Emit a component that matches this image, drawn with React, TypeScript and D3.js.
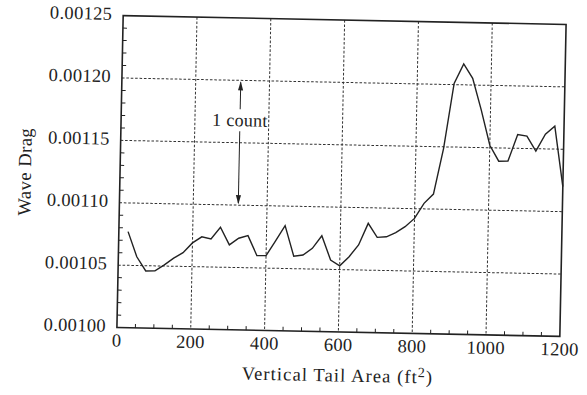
import React from "react";
import * as d3 from "d3";

// Vertical tail area sweep (ft^2) and resulting wave drag
const tailArea: number[] = [
  25, 50, 75, 100, 125, 150, 175, 200, 225, 250, 275, 300, 325, 350, 375, 400,
  425, 450, 475, 500, 525, 550, 575, 600, 625, 650, 675, 700, 725, 750, 775, 800,
  825, 850, 875, 900, 925, 950, 975, 1000, 1025, 1050, 1075, 1100, 1125, 1150, 1175, 1200,
];
const waveDrag: number[] = [
  0.001077, 0.001057, 0.0010458, 0.001046, 0.001051, 0.0010565, 0.001061, 0.001069,
  0.001074, 0.0010725, 0.001082, 0.001068, 0.0010735, 0.0010757, 0.00106, 0.00106,
  0.001072, 0.0010843, 0.00106, 0.0010611, 0.0010666, 0.0010768, 0.0010575, 0.001053,
  0.0010605, 0.00107, 0.0010875, 0.0010764, 0.001077, 0.0010805, 0.0010854, 0.0010922,
  0.0011044, 0.001112, 0.0011488, 0.001201, 0.0012167, 0.0012053, 0.00118, 0.001152,
  0.0011394, 0.0011396, 0.001161, 0.00116, 0.001148, 0.0011618, 0.0011684, 0.00112,
];

const xTicks: number[] = [0, 200, 400, 600, 800, 1000, 1200];
const yTicks: number[] = [0.001, 0.00105, 0.0011, 0.00115, 0.0012, 0.00125];
const xGrid: number[] = [200, 400, 600, 800, 1000];
const yGrid: number[] = [0.00105, 0.0011, 0.00115, 0.0012];

// "1 count" annotation: arrows spanning one drag count
const countX = 322;
const countLabelY = 0.001168;
const countTop = 0.0012;
const countBottom = 0.0011;

const W = 587;
const H = 395;
const left = 120;
const right = 563;
const top = 20;
const bottom = 332;
const FONT = "'Liberation Serif', 'Times New Roman', serif";
const INK = "#222";

export default function App() {
  const x = d3.scaleLinear().domain([0, 1200]).range([left, right]);
  const y = d3.scaleLinear().domain([0.001, 0.00125]).range([bottom, top]);

  const line = d3
    .line<number>()
    .x((_, i) => x(tailArea[i]))
    .y((d) => y(d));

  const xMinor = d3.range(50, 1200, 50).filter((v) => v % 200 !== 0);
  const yMinor = d3
    .range(1, 25)
    .map((k) => 0.001 + k * 0.00001)
    .filter((_, k) => (k + 1) % 5 !== 0);
  const fmt = d3.format(".5f");

  const ax = x(countX);
  const labelY = y(countLabelY);
  const headLen = 9;
  const headHalf = 2.6;

  return (
    <svg
      width={W}
      height={H}
      style={{ position: "absolute", left: 0, top: 0, background: "#fff" }}
    >
      <rect width={W} height={H} fill="#fff" />
      <g transform="rotate(1.15, 341.5, 176)">
        {/* grid */}
        {xGrid.map((v) => (
          <line
            key={"gx" + v}
            x1={x(v)}
            x2={x(v)}
            y1={top}
            y2={bottom}
            stroke="#333"
            strokeWidth={1}
            strokeDasharray="2.6,1.8"
          />
        ))}
        {yGrid.map((v) => (
          <line
            key={"gy" + v}
            x1={left}
            x2={right}
            y1={y(v)}
            y2={y(v)}
            stroke="#333"
            strokeWidth={1}
            strokeDasharray="2.6,1.8"
          />
        ))}

        {/* minor ticks */}
        {xMinor.map((v) => (
          <line key={"mx" + v} x1={x(v)} x2={x(v)} y1={bottom} y2={bottom - 4} stroke={INK} strokeWidth={1} />
        ))}
        {yMinor.map((v) => (
          <line key={"my" + v} x1={left} x2={left + 4} y1={y(v)} y2={y(v)} stroke={INK} strokeWidth={1} />
        ))}

        {/* frame */}
        <rect
          x={left}
          y={top}
          width={right - left}
          height={bottom - top}
          fill="none"
          stroke={INK}
          strokeWidth={1.6}
        />

        {/* data */}
        <path d={line(waveDrag) || ""} fill="none" stroke={INK} strokeWidth={1.4} strokeLinejoin="miter" />

        {/* annotation */}
        <text
          x={ax}
          y={labelY}
          textAnchor="middle"
          dominantBaseline="central"
          fontFamily={FONT}
          fontSize={18}
          letterSpacing={0.3}
          fill={INK}
        >
          1 count
        </text>
        <line x1={ax} x2={ax} y1={labelY - 11} y2={y(countTop) + 2} stroke={INK} strokeWidth={1} />
        <path
          d={`M${ax},${y(countTop) + 1} L${ax - headHalf},${y(countTop) + 1 + headLen} L${ax + headHalf},${y(countTop) + 1 + headLen} Z`}
          fill={INK}
        />
        <line x1={ax} x2={ax} y1={labelY + 11} y2={y(countBottom) - 2} stroke={INK} strokeWidth={1} />
        <path
          d={`M${ax},${y(countBottom) - 1} L${ax - headHalf},${y(countBottom) - 1 - headLen} L${ax + headHalf},${y(countBottom) - 1 - headLen} Z`}
          fill={INK}
        />

        {/* tick labels */}
        {xTicks.map((v) => (
          <text
            key={"tx" + v}
            x={x(v)}
            y={bottom + 19}
            textAnchor="middle"
            fontFamily={FONT}
            fontSize={18.5}
            letterSpacing={0.3}
            fill={INK}
          >
            {v}
          </text>
        ))}
        {yTicks.map((v) => (
          <text
            key={"ty" + v}
            x={left - 11}
            y={y(v) + 4.5}
            textAnchor="end"
            fontFamily={FONT}
            fontSize={18.5}
            letterSpacing={0.3}
            fill={INK}
          >
            {fmt(v)}
          </text>
        ))}

        {/* axis titles */}
        <text
          x={(left + right) / 2}
          y={381.5}
          textAnchor="middle"
          fontFamily={FONT}
          fontSize={18.5}
          letterSpacing={1.1}
          fill={INK}
        >
          Vertical Tail Area (ft
          <tspan fontSize={14} dy={-6}>2</tspan>
          <tspan dy={6}>)</tspan>
        </text>
        <text
          transform={`translate(31, 178) rotate(-90)`}
          textAnchor="middle"
          fontFamily={FONT}
          fontSize={18.5}
          letterSpacing={0.5}
          fill={INK}
        >
          Wave Drag
        </text>
      </g>
    </svg>
  );
}
